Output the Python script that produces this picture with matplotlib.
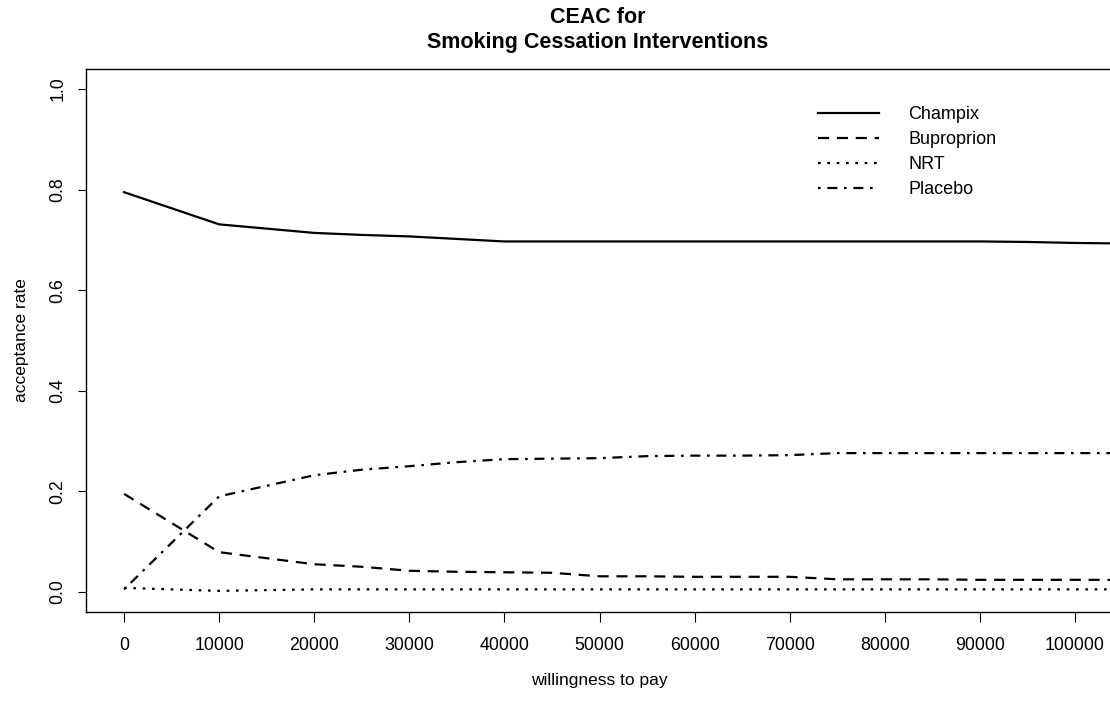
import numpy as np
import matplotlib
matplotlib.use("Agg")
import matplotlib.pyplot as plt

plt.rcParams["font.family"] = ["Liberation Sans", "DejaVu Sans"]

# willingness-to-pay grid and acceptance rates
wtp = [0, 10000, 20000, 25000, 30000, 35000, 40000, 45000, 50000, 55000, 60000,
       65000, 70000, 75000, 80000, 85000, 90000, 95000, 100000, 105000, 110000]
champix = [0.795, 0.731, 0.714, 0.710, 0.707, 0.702, 0.697, 0.697, 0.697, 0.697, 0.697,
           0.697, 0.697, 0.697, 0.697, 0.697, 0.697, 0.696, 0.694, 0.693, 0.693]
bupropion = [0.195, 0.079, 0.055, 0.050, 0.042, 0.040, 0.039, 0.038, 0.031, 0.031, 0.030,
             0.030, 0.030, 0.025, 0.025, 0.025, 0.024, 0.024, 0.024, 0.024, 0.024]
nrt = [0.008, 0.002, 0.005, 0.005, 0.005, 0.005, 0.005, 0.005, 0.005, 0.005, 0.005,
       0.005, 0.005, 0.005, 0.005, 0.005, 0.005, 0.005, 0.005, 0.005, 0.005]
placebo = [0.005, 0.190, 0.232, 0.243, 0.250, 0.258, 0.264, 0.265, 0.266, 0.270, 0.271,
           0.271, 0.272, 0.276, 0.276, 0.276, 0.276, 0.276, 0.276, 0.276, 0.276]

labels = ["Champix", "Buproprion", "NRT", "Placebo"]
series = [champix, bupropion, nrt, placebo]
styles = ["-", (0, (5, 3.5)), (0, (1.2, 3)), (0, (1.2, 3, 4.5, 3))]

W, H = 1110, 706
fig = plt.figure(figsize=(W / 100, H / 100), dpi=100)
ax = fig.add_axes([86 / W, 1 - 612 / H, (1113 - 86) / W, (612 - 69) / H])

for vals, ls, lab in zip(series, styles, labels):
    ax.plot(wtp, vals, color="black", lw=1.6, linestyle=ls, label=lab)

ax.set_xlim(-4000, 104000)
ax.set_ylim(-0.04, 1.04)
ax.set_xticks(np.arange(0, 100001, 10000))
ax.set_yticks([0.0, 0.2, 0.4, 0.6, 0.8, 1.0])
ax.set_yticklabels(["0.0", "0.2", "0.4", "0.6", "0.8", "1.0"], rotation=90, va="center")
ax.tick_params(axis="x", length=7, width=0.8, pad=11, labelsize=12.8)
ax.tick_params(axis="y", length=6, width=0.8, pad=8, labelsize=12.8)
for s in ax.spines.values():
    s.set_linewidth(1.0)
ax.spines["right"].set_visible(False)

ax.set_xlabel("willingness to pay", fontsize=12.5, labelpad=14)
ax.set_ylabel("acceptance rate", fontsize=12.5, labelpad=15)
fig.text(598 / W, 1 - 30 / H, "CEAC for\nSmoking Cessation Interventions",
         ha="center", va="center", fontsize=15.5, fontweight="bold", linespacing=1.3)

ax.legend(loc="upper left", bbox_to_anchor=(818 / W, 1 - 106 / H),
          bbox_transform=fig.transFigure, frameon=False, fontsize=13,
          handlelength=3.4, handletextpad=1.6, labelspacing=0.45,
          borderpad=0, borderaxespad=0)

fig.savefig("out.png", dpi=100)
